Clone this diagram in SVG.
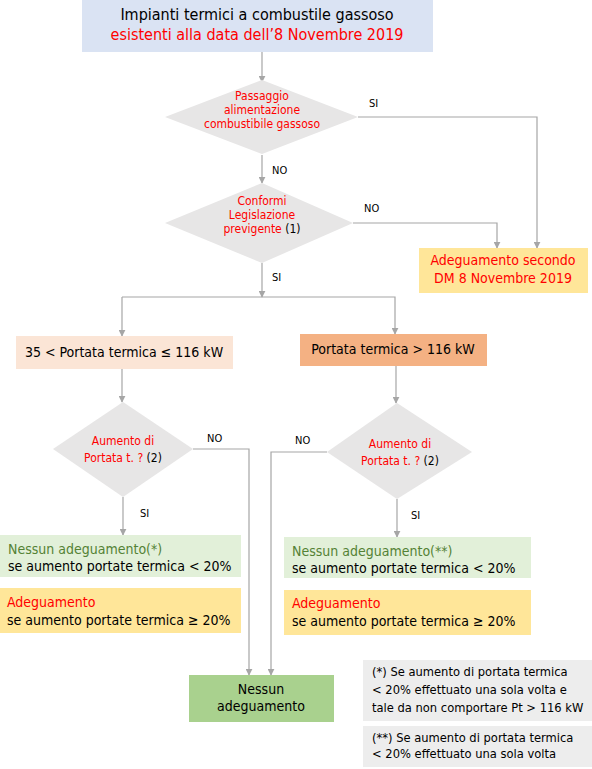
<svg xmlns="http://www.w3.org/2000/svg" width="592" height="769" viewBox="0 0 592 769">
<defs>
<style>
text{font-family:"DejaVu Sans Condensed","DejaVu Sans","Liberation Sans",sans-serif;}
.t16{font-size:16px;}
.t14{font-size:14px;}
.t11{font-size:12px;}
.t13{font-size:12.8px;}
.lbl{font-size:11px;fill:#000;}
.red{fill:#ff0000;}
.blk{fill:#000;}
.grn{fill:#548235;}
.c{stroke:#a6a6a6;stroke-width:1.2;fill:none;marker-end:url(#ar);}
</style>
<marker id="ar" viewBox="0 0 10 10" refX="9" refY="5" markerWidth="7" markerHeight="7" orient="auto" markerUnits="userSpaceOnUse">
<path d="M0,0 L10,5 L0,10 z" fill="#a6a6a6"/>
</marker>
</defs>
<rect width="592" height="769" fill="#fff"/>

<g id="connectors">
<path class="c" d="M262,52 V82"/>
<path class="c" d="M358,117 H537 V248"/>
<path class="c" d="M262,155 V183"/>
<path class="c" d="M353,223 H497 V248"/>
<path class="c" d="M262,263 V297"/>
<path class="c" d="M122,297 H395 V334"/>
<path class="c" d="M122,297 V336"/>
<path class="c" d="M122,369 V402"/>
<path class="c" d="M396,366 V403"/>
<path class="c" d="M193,449 H249 V675"/>
<path class="c" d="M327,452 H271 V675"/>
<path class="c" d="M123,497 V535"/>
<path class="c" d="M397,499 V537"/>
<text class="lbl" x="369" y="107">SI</text>
<text class="lbl" x="272" y="174">NO</text>
<text class="lbl" x="364" y="212">NO</text>
<text class="lbl" x="272" y="281">SI</text>
<text class="lbl" x="207" y="442">NO</text>
<text class="lbl" x="295" y="444">NO</text>
<text class="lbl" x="140" y="517">SI</text>
<text class="lbl" x="411" y="519">SI</text>
</g>

<g id="title">
<rect x="82" y="0" width="351" height="52" fill="#dae3f3"/>
<text class="t16 blk" x="257" y="20" text-anchor="middle">Impianti termici a combustile gassoso</text>
<text class="t16 red" x="257" y="40" text-anchor="middle">esistenti alla data dell’8 Novembre 2019</text>
</g>

<g id="d1">
<polygon points="262,80 358,117 262,154 165,117" fill="#e7e6e6"/>
<text class="t11 red" x="262" y="100" text-anchor="middle">Passaggio</text>
<text class="t11 red" x="262" y="114" text-anchor="middle">alimentazione</text>
<text class="t11 red" x="262" y="128" text-anchor="middle">combustibile gassoso</text>
</g>

<g id="d2">
<polygon points="262,183 353,223 262,263 165,223" fill="#e7e6e6"/>
<text class="t11 red" x="262" y="205" text-anchor="middle">Conformi</text>
<text class="t11 red" x="262" y="219" text-anchor="middle">Legislazione</text>
<text class="t11" x="262" y="233" text-anchor="middle"><tspan class="red">previgente </tspan><tspan class="blk">(1)</tspan></text>
</g>

<g id="adeg-dm">
<rect x="419" y="248" width="169" height="45" fill="#ffe699"/>
<text class="t14 red" x="503" y="265" text-anchor="middle">Adeguamento secondo</text>
<text class="t14 red" x="503" y="283" text-anchor="middle">DM 8 Novembre 2019</text>
</g>

<g id="box-low">
<rect x="16" y="336" width="217" height="33" fill="#fbe5d6"/>
<text class="t14 blk" x="124" y="357" text-anchor="middle">35 &lt; Portata termica ≤ 116 kW</text>
</g>

<g id="box-high">
<rect x="300" y="334" width="187" height="32" fill="#f4b183"/>
<text class="t14 blk" x="393" y="354" text-anchor="middle">Portata termica &gt; 116 kW</text>
</g>

<g id="d3">
<polygon points="123,402 193,449 123,497 53,449" fill="#e7e6e6"/>
<text class="t11 red" x="123" y="445" text-anchor="middle">Aumento di</text>
<text class="t11" x="123" y="462" text-anchor="middle"><tspan class="red">Portata t. ? </tspan><tspan class="blk">(2)</tspan></text>
</g>

<g id="d4">
<polygon points="397,403 472,452 397,499 327,452" fill="#e7e6e6"/>
<text class="t11 red" x="400" y="448" text-anchor="middle">Aumento di</text>
<text class="t11" x="400" y="465" text-anchor="middle"><tspan class="red">Portata t. ? </tspan><tspan class="blk">(2)</tspan></text>
</g>

<g id="nessun-left">
<rect x="0" y="535" width="241" height="42" fill="#e2f0d9"/>
<text class="t14 grn" x="8" y="554">Nessun adeguamento(*)</text>
<text class="t14 blk" x="8" y="571">se aumento portate termica &lt; 20%</text>
</g>

<g id="adeg-left">
<rect x="0" y="588" width="241" height="45" fill="#ffe699"/>
<text class="t14 red" x="7" y="607">Adeguamento</text>
<text class="t14 blk" x="7" y="625">se aumento portate termica ≥ 20%</text>
</g>

<g id="nessun-right">
<rect x="284" y="537" width="247" height="41" fill="#e2f0d9"/>
<text class="t14 grn" x="292" y="556">Nessun adeguamento(**)</text>
<text class="t14 blk" x="292" y="573">se aumento portate termica &lt; 20%</text>
</g>

<g id="adeg-right">
<rect x="284" y="590" width="247" height="45" fill="#ffe699"/>
<text class="t14 red" x="292" y="608">Adeguamento</text>
<text class="t14 blk" x="292" y="626">se aumento portate termica ≥ 20%</text>
</g>

<g id="nessun">
<rect x="189" y="675" width="145" height="47" fill="#a9d18e"/>
<text class="t14 blk" x="261" y="694" text-anchor="middle">Nessun</text>
<text class="t14 blk" x="261" y="711" text-anchor="middle">adeguamento</text>
</g>

<g id="note1">
<rect x="363" y="660" width="229" height="61" fill="#ededed"/>
<text class="t13 blk" x="372" y="676">(*) Se aumento di portata termica</text>
<text class="t13 blk" x="372" y="694">&lt; 20% effettuato una sola volta e</text>
<text class="t13 blk" x="372" y="712">tale da non comportare Pt &gt; 116 kW</text>
</g>

<g id="note2">
<rect x="363" y="726" width="229" height="41" fill="#ededed"/>
<text class="t13 blk" x="372" y="742">(**) Se aumento di portata termica</text>
<text class="t13 blk" x="372" y="758">&lt; 20% effettuato una sola volta</text>
</g>
</svg>
